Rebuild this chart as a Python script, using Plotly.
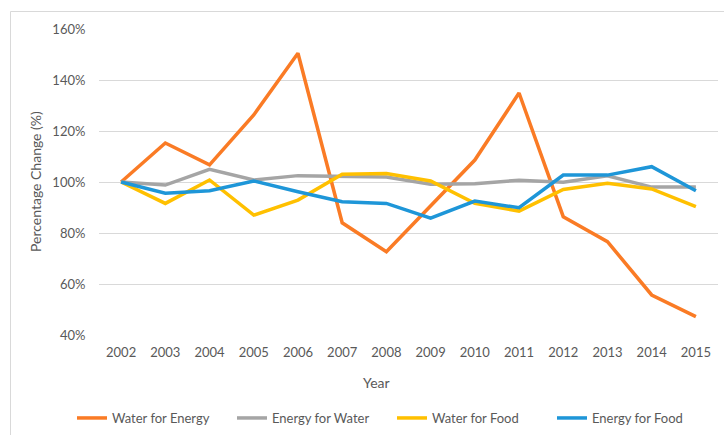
import plotly.graph_objects as go

years = ["2002", "2003", "2004", "2005", "2006", "2007", "2008", "2009",
         "2010", "2011", "2012", "2013", "2014", "2015"]

water_for_energy = [100, 115.3, 106.7, 126.3, 150.5, 84.0, 72.7, 90.5,
                    108.6, 134.9, 86.4, 76.6, 55.7, 47.2]
energy_for_water = [100, 98.8, 105.0, 100.8, 102.5, 102.2, 102.0, 99.1,
                    99.3, 100.7, 99.9, 102.4, 98.0, 98.0]
water_for_food = [100, 91.6, 100.8, 87.0, 92.9, 103.0, 103.3, 100.4,
                  91.6, 88.6, 97.1, 99.5, 97.3, 90.3]
energy_for_food = [100, 95.6, 96.6, 100.4, 96.2, 92.3, 91.6, 85.8,
                   92.5, 89.9, 102.7, 102.7, 106.0, 96.6]

series = [
    ("Water for Energy", water_for_energy, "#FA7B25"),
    ("Energy for Water", energy_for_water, "#A5A5A5"),
    ("Water for Food", water_for_food, "#FFC000"),
    ("Energy for Food", energy_for_food, "#1E96D8"),
]

tick_vals = [40, 60, 80, 100, 120, 140, 160]
tick_text = ["40%", "60%", "80%", "100%", "120%", "140%", "160%"]

FONT = "Lato, 'Open Sans', sans-serif"
TXT = "#595959"

fig = go.Figure()
for name, vals, color in series:
    fig.add_trace(go.Scatter(x=years, y=vals, name=name, mode="lines",
                             line=dict(color=color, width=3.5)))

W, H = 724, 435
L, R, T, B = 99, 6, 29, 100
pw = W - L - R
ph = H - T - B

def px_x(x):
    return (x - L) / pw

def px_y(y):
    return (H - B - y) / ph

fig.update_layout(
    width=W, height=H,
    margin=dict(l=L, r=R, t=T, b=B, autoexpand=False),
    paper_bgcolor="white", plot_bgcolor="white",
    font=dict(family=FONT, size=13, color=TXT),
    showlegend=True,
    legend=dict(orientation="h", x=px_x(72), xanchor="left",
                y=px_y(418), yanchor="middle",
                entrywidth=115, entrywidthmode="pixels",
                font=dict(family=FONT, size=13, color=TXT),
                itemwidth=30, tracegroupgap=0),
    xaxis=dict(type="category", showgrid=False, showline=False, zeroline=False,
               ticks="outside", ticklen=5, tickcolor="rgba(0,0,0,0)",
               automargin=False,
               tickfont=dict(family=FONT, size=13, color=TXT),
               range=[-0.5, 13.5]),
    yaxis=dict(range=[40, 160], tickvals=tick_vals, ticktext=tick_text,
               showgrid=True, gridcolor="#D9D9D9", gridwidth=1,
               zeroline=False, showline=False,
               ticks="outside", ticklen=10, tickcolor="rgba(0,0,0,0)",
               automargin=False,
               tickfont=dict(family=FONT, size=13, color=TXT)),
    shapes=[dict(type="rect", xref="paper", yref="paper",
                 x0=px_x(10.5), x1=px_x(730), y0=px_y(445), y1=px_y(11.5),
                 line=dict(color="#D9D9D9", width=1), layer="below")],
    annotations=[
        dict(text="Year", xref="paper", yref="paper", x=px_x(376), y=px_y(383),
             showarrow=False, xanchor="center", yanchor="middle",
             font=dict(family=FONT, size=14, color=TXT)),
        dict(text="Percentage Change (%)", xref="paper", yref="paper",
             x=px_x(35), y=px_y(182), textangle=-90, showarrow=False,
             xanchor="center", yanchor="middle",
             font=dict(family=FONT, size=14, color=TXT)),
    ],
)

fig.write_html("out.html",
               config={"displayModeBar": False},
               post_script="document.body.style.margin='0';"
                           "document.body.style.overflow='hidden';")
